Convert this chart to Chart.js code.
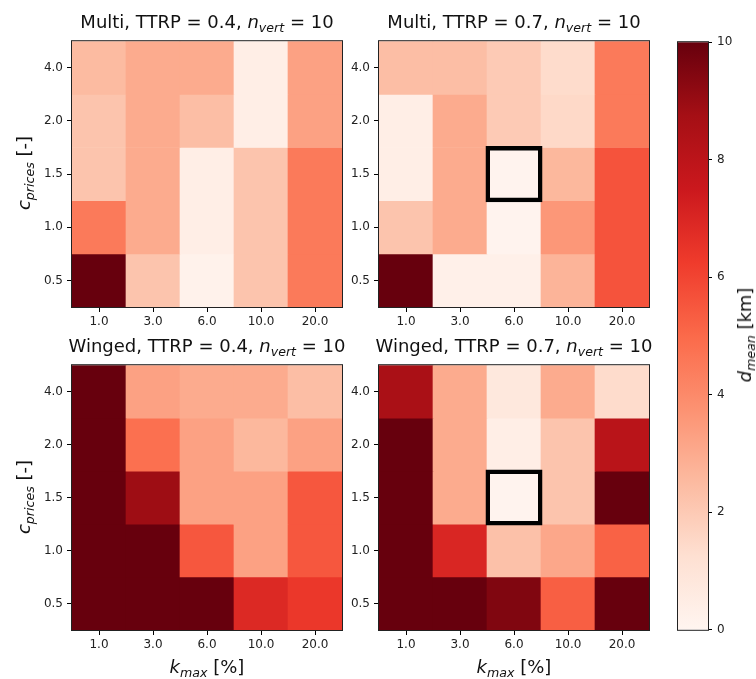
<!DOCTYPE html>
<html>
<head>
<meta charset="utf-8">
<script src="https://cdn.jsdelivr.net/npm/chart.js@4.4.1/dist/chart.umd.min.js"></script>
<style>
  html, body { margin: 0; padding: 0; background: #fff; }
  #fig { position: relative; width: 756px; height: 679px; overflow: hidden; font-family: 'DejaVu Sans', sans-serif; color: #111; }
  #fig canvas { position: absolute; }
  .title { position: absolute; width: 320px; text-align: center; font-size: 18px; line-height: 20px; white-space: nowrap; }
  .lbl { position: absolute; font-size: 18px; line-height: 20px; white-space: nowrap; transform: translate(-50%, -50%); }
  .rot { transform: translate(-50%, -50%) rotate(-90deg); }
  sub { font-size: 70%; vertical-align: -0.3em; line-height: 0; }
</style>
</head>
<body>
<div id="fig">
  <canvas id="p1" width="320" height="310" style="left:30px;top:30px"></canvas>
  <canvas id="p2" width="320" height="310" style="left:337px;top:30px"></canvas>
  <canvas id="p3" width="320" height="309" style="left:30px;top:354px"></canvas>
  <canvas id="p4" width="320" height="309" style="left:337px;top:354px"></canvas>
  <canvas id="cbar" width="78" height="612" style="left:670px;top:30px"></canvas>

  <div class="title" style="left:47px;top:12px">Multi, TTRP = 0.4, <i>n</i><sub><i>vert</i></sub> = 10</div>
  <div class="title" style="left:354px;top:12px">Multi, TTRP = 0.7, <i>n</i><sub><i>vert</i></sub> = 10</div>
  <div class="title" style="left:47px;top:336px">Winged, TTRP = 0.4, <i>n</i><sub><i>vert</i></sub> = 10</div>
  <div class="title" style="left:354px;top:336px">Winged, TTRP = 0.7, <i>n</i><sub><i>vert</i></sub> = 10</div>

  <div class="lbl rot" style="left:24px;top:173px"><i>c</i><sub><i>prices</i></sub> [-]</div>
  <div class="lbl rot" style="left:24px;top:497px"><i>c</i><sub><i>prices</i></sub> [-]</div>
  <div class="lbl" style="left:207px;top:667px"><i>k</i><sub><i>max</i></sub> [%]</div>
  <div class="lbl" style="left:514px;top:667px"><i>k</i><sub><i>max</i></sub> [%]</div>
  <div class="lbl rot" style="left:745px;top:335px"><i>d</i><sub><i>mean</i></sub> [km]</div>
</div>

<script>
// ---- data (rows bottom to top, follow cLabels; columns follow kLabels) ----
const kLabels = ['1.0', '3.0', '6.0', '10.0', '20.0'];
const cLabels = ['0.5', '1.0', '1.5', '2.0', '4.0'];
const cbarTicks = [0, 2, 4, 6, 8, 10];
const vmin = 0, vmax = 10;

const multi04 = [
  [10.0, 2.2, 0.2, 2.2, 4.5],
  [4.5, 3.0, 0.4, 2.2, 4.5],
  [2.2, 3.0, 0.4, 2.2, 4.5],
  [2.2, 3.0, 2.4, 0.4, 3.3],
  [2.5, 3.0, 3.0, 0.4, 3.3]
];
const multi07 = [
  [10.0, 0.3, 0.3, 2.7, 5.6],
  [2.2, 3.0, 0.1, 3.6, 5.6],
  [0.4, 3.0, 0.1, 2.6, 5.6],
  [0.4, 3.0, 2.0, 1.5, 4.5],
  [2.4, 2.4, 2.0, 1.4, 4.5]
];
const winged04 = [
  [10.0, 10.0, 10.0, 6.9, 6.4],
  [10.0, 10.0, 5.5, 3.3, 5.5],
  [10.0, 8.9, 3.3, 3.3, 5.5],
  [10.0, 4.8, 3.3, 2.6, 3.3],
  [10.0, 3.3, 3.0, 3.0, 2.4]
];
const winged07 = [
  [10.0, 10.0, 9.5, 5.3, 10.0],
  [10.0, 7.0, 2.3, 3.1, 5.2],
  [10.0, 3.0, 0.1, 2.2, 10.0],
  [10.0, 3.0, 0.4, 2.2, 8.1],
  [8.6, 3.0, 0.8, 3.0, 1.4]
];
// highlighted cell (k, c)
const bestCell = { k: '6.0', c: '1.5' };

// ---- matplotlib "Reds" colormap ----
const redsStops = [
  [255, 245, 240], [254, 224, 210], [252, 187, 161], [252, 146, 114], [251, 106, 74],
  [239, 59, 44], [203, 24, 29], [165, 15, 21], [103, 0, 13]
];

function reds(t) {
  t = Math.max(0, Math.min(1, t));
  const p = t * (redsStops.length - 1);
  const i = Math.min(redsStops.length - 2, Math.floor(p));
  const f = p - i;
  const a = redsStops[i], b = redsStops[i + 1];
  const c = a.map((v, n) => Math.round(v + (b[n] - v) * f));
  return `rgb(${c[0]}, ${c[1]}, ${c[2]})`;
}

Chart.defaults.font.family = "'DejaVu Sans', sans-serif";
Chart.defaults.color = '#222';

// axes frame (matplotlib spines)
const framePlugin = {
  id: 'frame',
  afterDraw(chart) {
    const { ctx, chartArea: a } = chart;
    ctx.save();
    ctx.strokeStyle = '#222';
    ctx.lineWidth = 1;
    ctx.strokeRect(a.left - 0.5, a.top - 0.5, a.right - a.left + 1, a.bottom - a.top + 1);
    ctx.restore();
  }
};

const tickGrid = { drawOnChartArea: false, drawTicks: true, tickLength: 5, color: '#000', offset: false };

function heatPanel(id, grid, highlight) {
  const cells = [];
  grid.forEach((row, i) => row.forEach((v, j) => {
    cells.push({ x: kLabels[j], y: [i - 0.5, i + 0.5], v });
  }));

  const datasets = [{
    data: cells,
    backgroundColor: ctx => ctx.raw ? reds((ctx.raw.v - vmin) / (vmax - vmin)) : 'transparent',
    borderWidth: 0,
    grouped: false,
    order: 2,
    barPercentage: 1,
    categoryPercentage: 1
  }];

  // outline box, drawn on top of the cells (lower order = drawn last)
  if (highlight) {
    const ci = cLabels.indexOf(highlight.c);
    datasets.push({
      data: [{ x: highlight.k, y: [ci - 0.5, ci + 0.5] }],
      backgroundColor: 'rgba(0,0,0,0)',
      borderColor: '#000',
      borderWidth: 1.5,
      borderSkipped: false,
      inflateAmount: 1.5,
      grouped: false,
      order: 1,
      barPercentage: 1,
      categoryPercentage: 1
    });
  }

  return new Chart(document.getElementById(id), {
    type: 'bar',
    data: { labels: kLabels, datasets },
    plugins: [framePlugin],
    options: {
      responsive: false,
      animation: false,
      layout: { padding: { top: 8, right: 8, left: 0, bottom: 0 } },
      plugins: { legend: { display: false }, tooltip: { enabled: false } },
      scales: {
        x: {
          type: 'category',
          offset: true,
          grid: tickGrid,
          border: { display: false },
          ticks: { font: { size: 12 }, padding: 3, maxRotation: 0 },
          afterFit: s => { s.height = 33; }
        },
        y: {
          type: 'linear',
          min: -0.5,
          max: 4.5,
          grid: tickGrid,
          border: { display: false },
          afterBuildTicks: s => { s.ticks = cLabels.map((_, i) => ({ value: i })); },
          ticks: { font: { size: 12 }, padding: 4, callback: v => cLabels[v] },
          afterFit: s => { s.width = 42; }
        }
      }
    }
  });
}

heatPanel('p1', multi04, null);
heatPanel('p2', multi07, bestCell);
heatPanel('p3', winged04, null);
heatPanel('p4', winged07, bestCell);

// ---- colorbar ----
new Chart(document.getElementById('cbar'), {
  type: 'bar',
  data: {
    labels: ['d'],
    datasets: [{
      data: [[vmin, vmax]],
      backgroundColor: ctx => {
        const a = ctx.chart.chartArea;
        if (!a) return reds(1);
        const g = ctx.chart.ctx.createLinearGradient(0, a.bottom, 0, a.top);
        redsStops.forEach((_, i) => g.addColorStop(i / (redsStops.length - 1), reds(i / (redsStops.length - 1))));
        return g;
      },
      borderWidth: 0,
      barPercentage: 1,
      categoryPercentage: 1
    }]
  },
  plugins: [framePlugin],
  options: {
    responsive: false,
    animation: false,
    layout: { padding: { top: 8, left: 8, right: 0, bottom: 12 } },
    plugins: { legend: { display: false }, tooltip: { enabled: false } },
    scales: {
      x: { display: false },
      y: {
        position: 'right',
        min: vmin,
        max: vmax,
        grid: { drawOnChartArea: false, drawTicks: true, tickLength: 4, color: '#000' },
        border: { display: false },
        afterBuildTicks: s => { s.ticks = cbarTicks.map(v => ({ value: v })); },
        ticks: { font: { size: 12 }, padding: 5 },
        afterFit: s => { s.width = 40; }
      }
    }
  }
});
</script>
</body>
</html>
